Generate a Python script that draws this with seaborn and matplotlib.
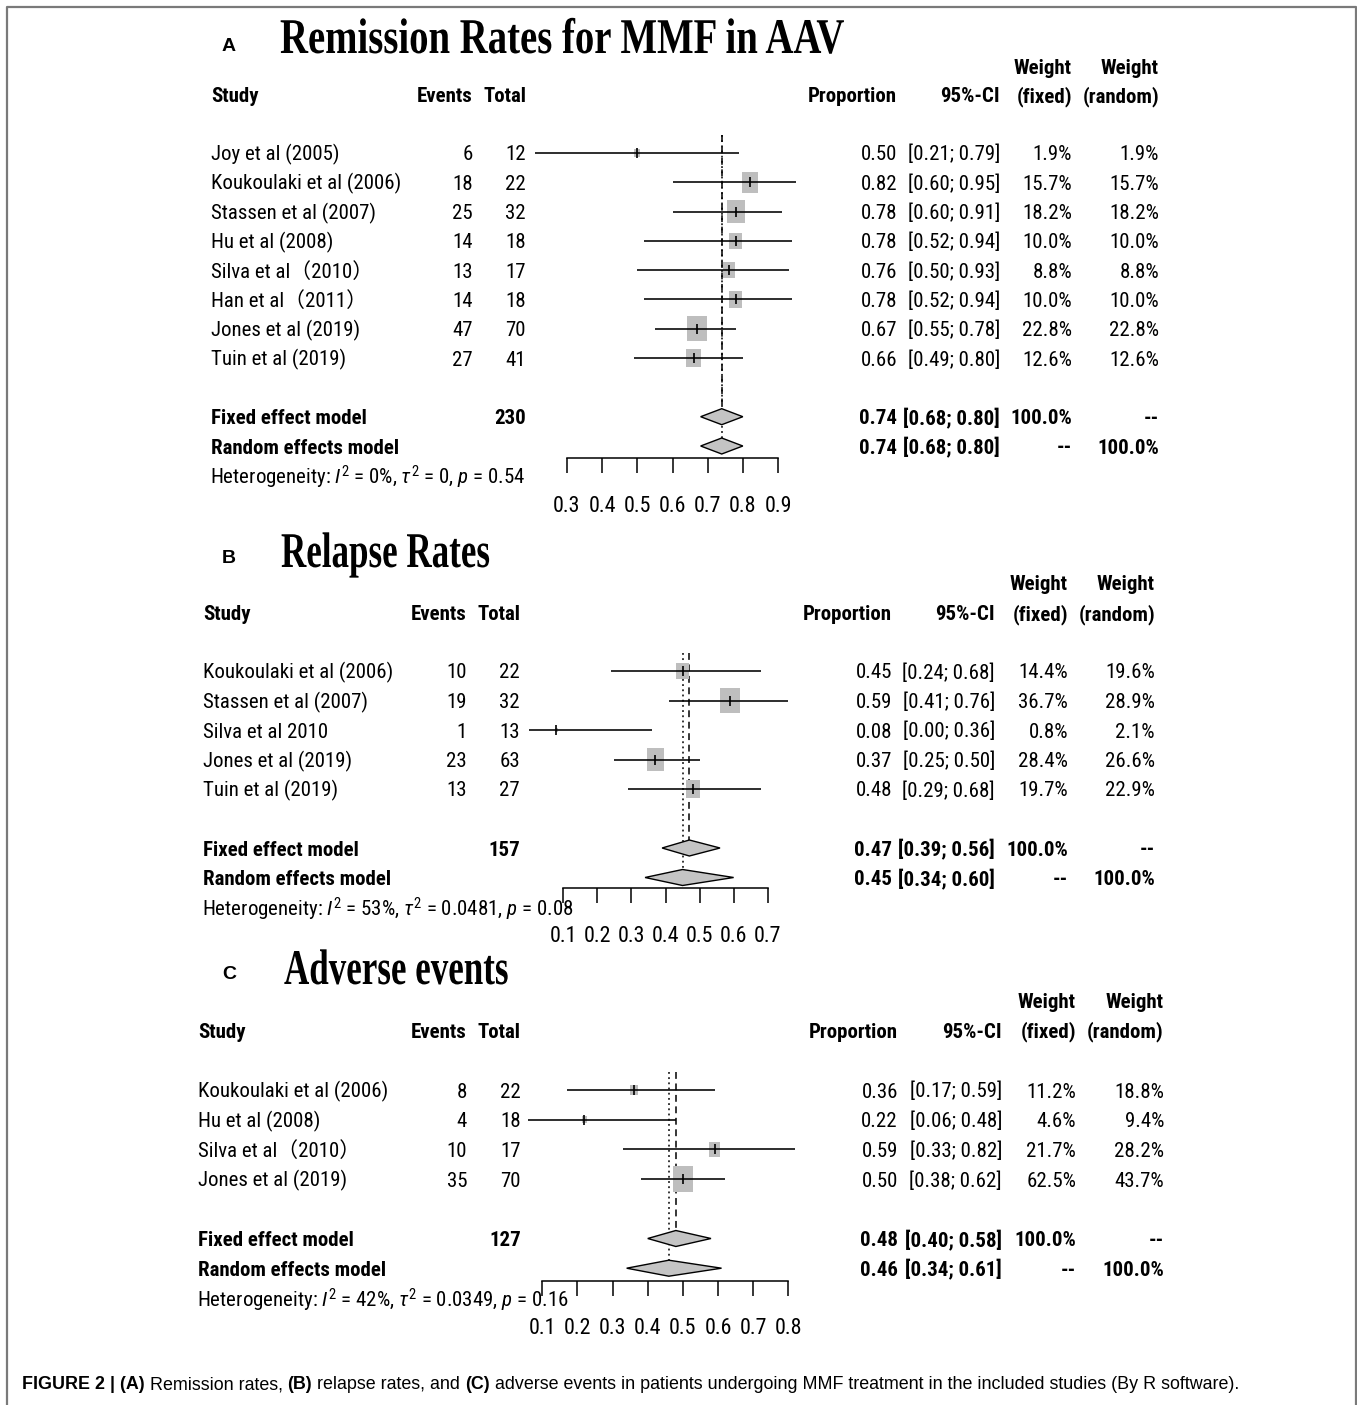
import matplotlib
matplotlib.use("Agg")
import numpy as np
import pandas as pd
import matplotlib.pyplot as plt
import matplotlib.transforms as mtransforms
from matplotlib import font_manager
from matplotlib.path import Path
from matplotlib.patches import Polygon
from matplotlib.lines import Line2D
from matplotlib.patheffects import AbstractPathEffect
import seaborn as sns

# ---------------- data ----------------
# (A) remission
a_studies = ["Joy et al (2005)", "Koukoulaki et al (2006)", "Stassen et al (2007)",
             "Hu et al (2008)", "Silva et al（2010）", "Han et al（2011）",
             "Jones et al (2019)", "Tuin et al (2019)"]
a_events = [6, 18, 25, 14, 13, 14, 47, 27]
a_total = [12, 22, 32, 18, 17, 18, 70, 41]
a_prop = [0.50, 0.82, 0.78, 0.78, 0.76, 0.78, 0.67, 0.66]
a_lo = [0.21, 0.60, 0.60, 0.52, 0.50, 0.52, 0.55, 0.49]
a_hi = [0.79, 0.95, 0.91, 0.94, 0.93, 0.94, 0.78, 0.80]
a_wfix = [1.9, 15.7, 18.2, 10.0, 8.8, 10.0, 22.8, 12.6]
a_wran = [1.9, 15.7, 18.2, 10.0, 8.8, 10.0, 22.8, 12.6]
a_fixed = [0.74, 0.68, 0.80]
a_random = [0.74, 0.68, 0.80]
a_sum_total = 230
a_het = ["0%", "0", "0.54"]
a_ticks = [0.3, 0.4, 0.5, 0.6, 0.7, 0.8, 0.9]

# (B) relapse
b_studies = ["Koukoulaki et al (2006)", "Stassen et al (2007)", "Silva et al 2010",
             "Jones et al (2019)", "Tuin et al (2019)"]
b_events = [10, 19, 1, 23, 13]
b_total = [22, 32, 13, 63, 27]
b_prop = [0.45, 0.59, 0.08, 0.37, 0.48]
b_lo = [0.24, 0.41, 0.00, 0.25, 0.29]
b_hi = [0.68, 0.76, 0.36, 0.50, 0.68]
b_wfix = [14.4, 36.7, 0.8, 28.4, 19.7]
b_wran = [19.6, 28.9, 2.1, 26.6, 22.9]
b_fixed = [0.47, 0.39, 0.56]
b_random = [0.45, 0.34, 0.60]
b_sum_total = 157
b_het = ["53%", "0.0481", "0.08"]
b_ticks = [0.1, 0.2, 0.3, 0.4, 0.5, 0.6, 0.7]

# (C) adverse events
c_studies = ["Koukoulaki et al (2006)", "Hu et al (2008)", "Silva et al（2010）",
             "Jones et al (2019)"]
c_events = [8, 4, 10, 35]
c_total = [22, 18, 17, 70]
c_prop = [0.36, 0.22, 0.59, 0.50]
c_lo = [0.17, 0.06, 0.33, 0.38]
c_hi = [0.59, 0.48, 0.82, 0.62]
c_wfix = [11.2, 4.6, 21.7, 62.5]
c_wran = [18.8, 9.4, 28.2, 43.7]
c_fixed = [0.48, 0.40, 0.58]
c_random = [0.46, 0.34, 0.61]
c_sum_total = 127
c_het = ["42%", "0.0349", "0.16"]
c_ticks = [0.1, 0.2, 0.3, 0.4, 0.5, 0.6, 0.7, 0.8]

titles = ["Remission Rates for MMF in AAV", "Relapse Rates", "Adverse events"]
letters = ["A", "B", "C"]

# ---------------- style ----------------
sns.set_theme(style="white")

# prefer a condensed sans for the table; otherwise use a smaller regular sans
_installed = {f.name for f in font_manager.fontManager.ttflist}
if "Liberation Sans Narrow" in _installed:
    BODY, FS = "Liberation Sans Narrow", 16.0
elif "Roboto Condensed" in _installed:
    BODY, FS = "Roboto Condensed", 15.0
elif "Arial Narrow" in _installed:
    BODY, FS = "Arial Narrow", 16.0
else:
    BODY, FS = "Liberation Sans", 12.9

FAMILY = [BODY, "Noto Sans CJK SC", "DejaVu Sans"]
plt.rcParams["font.family"] = FAMILY
plt.rcParams["mathtext.fontset"] = "custom"
plt.rcParams["mathtext.rm"] = BODY
plt.rcParams["mathtext.it"] = BODY + ":italic"
plt.rcParams["mathtext.bf"] = BODY + ":bold"

W, H = 1357, 1405
DPI = 100
fig = plt.figure(figsize=(W / DPI, H / DPI), dpi=DPI)
fig.patch.set_facecolor("white")

SQUARE_GREY = "#BEBEBE"
DIAMOND_GREY = "#C4C4C4"
FS_PX = FS * DPI / 72.0
BASE_SHIFT = 0.36 * FS_PX      # baseline sits this far below a row's centre


class HSqueeze(AbstractPathEffect):
    """Draw text glyphs horizontally condensed about their left edge."""

    def __init__(self, factor):
        super().__init__()
        self.factor = factor

    def draw_path(self, renderer, gc, tpath, affine, rgbFace=None):
        renderer.draw_path(gc, tpath,
                           mtransforms.Affine2D().scale(self.factor, 1.0) + affine,
                           rgbFace)


def fx(x):
    return x / W


def fy(y):
    return 1 - y / H


def ptext(x, y, s, **kw):
    kw.setdefault("fontsize", FS)
    kw.setdefault("va", "baseline")
    kw.setdefault("color", "black")
    return fig.text(fx(x), fy(y), s, **kw)


# rectangle marker, slightly taller than wide
RECT = Path([(-0.39, -0.5), (0.39, -0.5), (0.39, 0.5), (-0.39, 0.5), (-0.39, -0.5)],
            [Path.MOVETO, Path.LINETO, Path.LINETO, Path.LINETO, Path.CLOSEPOLY])

panels = [
    dict(studies=a_studies, events=a_events, total=a_total, prop=a_prop, lo=a_lo, hi=a_hi,
         wfix=a_wfix, wran=a_wran, fixed=a_fixed, random=a_random, sum_total=a_sum_total,
         het=a_het, ticks=a_ticks,
         row0=153, step=29.3, base=458, ax_left=567, ax_right=778,
         cols=dict(study=211, events=473, total=526, prop=897, ci=1000, wf=1072, wr=1159),
         head1=66, head2=95, letter=(222, 51), title=(280, 53), squeeze=0.775),
    dict(studies=b_studies, events=b_events, total=b_total, prop=b_prop, lo=b_lo, hi=b_hi,
         wfix=b_wfix, wran=b_wran, fixed=b_fixed, random=b_random, sum_total=b_sum_total,
         het=b_het, ticks=b_ticks,
         row0=671, step=29.5, base=888, ax_left=563.3, ax_right=767.7,
         cols=dict(study=203, events=467, total=520, prop=892, ci=995, wf=1068, wr=1155),
         head1=583, head2=613, letter=(222, 563), title=(281, 567), squeeze=0.70),
    dict(studies=c_studies, events=c_events, total=c_total, prop=c_prop, lo=c_lo, hi=c_hi,
         wfix=c_wfix, wran=c_wran, fixed=c_fixed, random=c_random, sum_total=c_sum_total,
         het=c_het, ticks=c_ticks,
         row0=1090, step=29.7, base=1280.7, ax_left=542.3, ax_right=788.3,
         cols=dict(study=198, events=467, total=521, prop=898, ci=1002, wf=1076, wr=1164),
         head1=1000, head2=1030, letter=(222, 979), title=(284, 984), squeeze=0.70),
]

for letter, title, P in zip(letters, titles, panels):
    n = len(P["studies"])
    fixed_row = n + 1
    random_row = n + 2
    top_px = P["row0"] - P["step"]
    base_i = (P["base"] - P["row0"]) / P["step"]

    ax = fig.add_axes([fx(P["ax_left"]), fy(P["base"]),
                       (P["ax_right"] - P["ax_left"]) / W, (P["base"] - top_px) / H])
    ax.set_facecolor("none")

    df = pd.DataFrame({"study": P["studies"], "prop": P["prop"], "lo": P["lo"],
                       "hi": P["hi"], "w": P["wfix"], "row": np.arange(n)})

    # weight squares
    sns.scatterplot(data=df, x="prop", y="row", size="w", sizes=(0, 330),
                    size_norm=(0, max(P["wfix"])), marker=RECT, color=SQUARE_GREY,
                    edgecolor="none", linewidth=0, legend=False, ax=ax,
                    clip_on=False, zorder=2)
    # confidence intervals and point estimates
    ax.hlines(df["row"], df["lo"], df["hi"], color="black", lw=1.15,
              clip_on=False, zorder=3)
    ax.plot(df["prop"], df["row"], ls="none", marker="|", ms=7, mew=1.2,
            color="black", clip_on=False, zorder=3)

    # pooled reference lines
    ax.plot([P["fixed"][0]] * 2, [-0.6, fixed_row], color="black", lw=1.1,
            ls=(0, (4.5, 3)), zorder=1, clip_on=False)
    ax.plot([P["random"][0]] * 2, [-0.6, random_row], color="black", lw=1.1,
            ls=(0, (1.2, 2.2)), zorder=1, clip_on=False)

    # pooled diamonds
    hh = 8.0 / P["step"]
    for est, row in ((P["fixed"], fixed_row), (P["random"], random_row)):
        m, lo, hi = est
        ax.add_patch(Polygon([(lo, row), (m, row - hh), (hi, row), (m, row + hh)],
                             closed=True, facecolor=DIAMOND_GREY, edgecolor="black",
                             lw=1.0, zorder=4, clip_on=False))

    ax.set_xlim(P["ticks"][0], P["ticks"][-1])
    ax.set_ylim(base_i, -1)
    ax.set_xlabel("")
    ax.set_ylabel("")
    ax.set_yticks([])
    ax.set_xticks(P["ticks"])
    ax.set_xticklabels([f"{t:.1f}" for t in P["ticks"]], fontsize=FS + 0.8)
    for side in ("left", "right", "top"):
        ax.spines[side].set_visible(False)
    ax.spines["bottom"].set_color("black")
    ax.spines["bottom"].set_linewidth(1.1)
    ax.tick_params(axis="x", direction="out", length=11, width=1.1, pad=16,
                   colors="black", bottom=True)

    # ---- table text ----
    C = P["cols"]
    row_tr = mtransforms.blended_transform_factory(fig.transFigure, ax.transData) + \
        mtransforms.ScaledTranslation(0, -BASE_SHIFT / DPI, fig.dpi_scale_trans)

    def rtext(x, row, s, ha="right", bold=False):
        fig.text(fx(x), row, s, transform=row_tr, ha=ha, va="baseline", fontsize=FS,
                 fontweight="bold" if bold else "normal", color="black")

    for i in range(n):
        rtext(C["study"], i, P["studies"][i], ha="left")
        rtext(C["events"], i, str(P["events"][i]))
        rtext(C["total"], i, str(P["total"][i]))
        rtext(C["prop"], i, f"{P['prop'][i]:.2f}")
        rtext(C["ci"], i, f"[{P['lo'][i]:.2f}; {P['hi'][i]:.2f}]")
        rtext(C["wf"], i, f"{P['wfix'][i]:.1f}%")
        rtext(C["wr"], i, f"{P['wran'][i]:.1f}%")

    rtext(C["study"], fixed_row, "Fixed effect model", ha="left", bold=True)
    rtext(C["total"], fixed_row, str(P["sum_total"]), bold=True)
    rtext(C["prop"], fixed_row, f"{P['fixed'][0]:.2f}", bold=True)
    rtext(C["ci"], fixed_row, f"[{P['fixed'][1]:.2f}; {P['fixed'][2]:.2f}]", bold=True)
    rtext(C["wf"], fixed_row, "100.0%", bold=True)
    rtext(C["wr"], fixed_row, "--", bold=True)

    rtext(C["study"], random_row, "Random effects model", ha="left", bold=True)
    rtext(C["prop"], random_row, f"{P['random'][0]:.2f}", bold=True)
    rtext(C["ci"], random_row, f"[{P['random'][1]:.2f}; {P['random'][2]:.2f}]", bold=True)
    rtext(C["wf"], random_row, "--", bold=True)
    rtext(C["wr"], random_row, "100.0%", bold=True)

    I2, tau2, pval = P["het"]
    rtext(C["study"] - 1, random_row + 1.07,
          rf"Heterogeneity: $I^2$ = {I2}, $\tau^2$ = {tau2}, $p$ = {pval}", ha="left")

    # column headers (given as centre heights)
    h1 = P["head1"] + BASE_SHIFT
    h2 = P["head2"] + BASE_SHIFT
    ptext(C["wf"], h1, "Weight", ha="right", fontweight="bold")
    ptext(C["wr"], h1, "Weight", ha="right", fontweight="bold")
    ptext(C["study"], h2, "Study", ha="left", fontweight="bold")
    ptext(C["events"], h2, "Events", ha="right", fontweight="bold")
    ptext(C["total"], h2, "Total", ha="right", fontweight="bold")
    ptext(C["prop"], h2, "Proportion", ha="right", fontweight="bold")
    ptext(C["ci"], h2, "95%-CI", ha="right", fontweight="bold")
    ptext(C["wf"], h2, "(fixed)", ha="right", fontweight="bold")
    ptext(C["wr"], h2, "(random)", ha="right", fontweight="bold")

    # panel letter and title
    ptext(P["letter"][0], P["letter"][1], letter, ha="left", fontsize=14,
          fontweight="bold", family=["Liberation Sans", "DejaVu Sans"])
    ptext(P["title"][0], P["title"][1], title, ha="left", fontsize=36,
          fontweight="bold", family=["Liberation Serif", "DejaVu Serif"],
          path_effects=[HSqueeze(P["squeeze"])])

# ---------------- caption ----------------
cap_parts = [("FIGURE 2 | (A)", "bold"), (" Remission rates, ", "normal"),
             ("(B)", "bold"), (" relapse rates, and ", "normal"), ("(C)", "bold"),
             (" adverse events in patients undergoing MMF treatment in the included "
              "studies (By R software).", "normal")]
renderer = fig.canvas.get_renderer()
x_cur = 22.0
for txt, wt in cap_parts:
    t = ptext(x_cur, 1389, txt, ha="left", fontsize=12.9, fontweight=wt,
              family=["Liberation Sans", "DejaVu Sans"])
    bb = t.get_window_extent(renderer=renderer)
    x_cur += bb.width

# ---------------- frame ----------------
fig.add_artist(Line2D([fx(7), fx(7), fx(1355.5), fx(1355.5)],
                      [fy(1405), fy(6.5), fy(6.5), fy(1405)],
                      transform=fig.transFigure, color="#7A7A7A", lw=1.6))

fig.savefig("out.png", dpi=DPI, facecolor="white")
